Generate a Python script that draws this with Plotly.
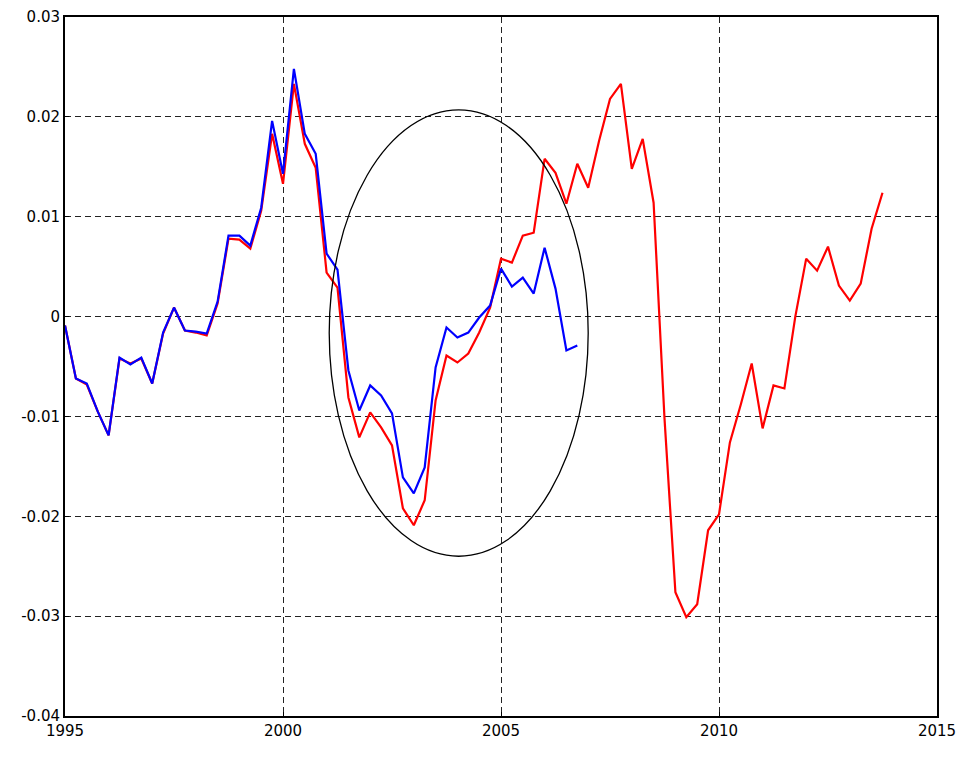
import plotly.graph_objects as go

# quarterly observations starting 1995 Q1
start_year = 1995.0
red_values = [
    -0.0009, -0.0062, -0.0068, -0.0095, -0.0119, -0.0042, -0.0047, -0.0042, -0.0067, -0.0017,
    0.0009, -0.0014, -0.0016, -0.0019, 0.0013, 0.0078, 0.0077, 0.0068, 0.0106, 0.0183,
    0.0133, 0.0233, 0.0173, 0.0149, 0.0044, 0.0029, -0.0081, -0.0121, -0.0096, -0.0111,
    -0.0129, -0.0192, -0.0209, -0.0184, -0.0084, -0.0039, -0.0046, -0.0037, -0.0016, 0.0009,
    0.0058, 0.0054, 0.0081, 0.0084, 0.0158, 0.0144, 0.0113, 0.0153, 0.0129, 0.0176,
    0.0218, 0.0233, 0.0148, 0.0178, 0.0114, -0.0102, -0.0276, -0.0301, -0.0288, -0.0214,
    -0.0198, -0.0126, -0.0088, -0.0047, -0.0112, -0.0069, -0.0072, 0.0000, 0.0058, 0.0046,
    0.0070, 0.0031, 0.0016, 0.0033, 0.0088, 0.0124,
]
blue_values = [
    -0.0009, -0.0062, -0.0067, -0.0095, -0.0119, -0.0041, -0.0048, -0.0041, -0.0067, -0.0016,
    0.0009, -0.0014, -0.0015, -0.0017, 0.0015, 0.0081, 0.0081, 0.0071, 0.0109, 0.0196,
    0.0143, 0.0248, 0.0183, 0.0163, 0.0063, 0.0047, -0.0054, -0.0094, -0.0069, -0.0079,
    -0.0097, -0.0161, -0.0177, -0.0151, -0.0051, -0.0011, -0.0021, -0.0016, -0.0001, 0.0011,
    0.0048, 0.0030, 0.0039, 0.0023, 0.0069, 0.0028, -0.0034, -0.0029,
]
red_x = [start_year + i / 4 for i in range(len(red_values))]
blue_x = [start_year + i / 4 for i in range(len(blue_values))]

x_ticks = [1995, 2000, 2005, 2010, 2015]
y_ticks = [0.03, 0.02, 0.01, 0, -0.01, -0.02, -0.03, -0.04]
y_tick_labels = ["0.03", "0.02", "0.01", "0", "-0.01", "-0.02", "-0.03", "-0.04"]

# highlighted ellipse (data coords)
ellipse_x = [2001.06, 2007.0]
ellipse_y = [-0.0240, 0.0207]

fig = go.Figure()
fig.add_trace(go.Scatter(x=red_x, y=red_values, mode="lines",
                         line=dict(color="#ff0000", width=2.2), showlegend=False))
fig.add_trace(go.Scatter(x=blue_x, y=blue_values, mode="lines",
                         line=dict(color="#0000ff", width=2.2), showlegend=False))

fig.add_shape(type="circle", xref="x", yref="y",
              x0=ellipse_x[0], x1=ellipse_x[1], y0=ellipse_y[0], y1=ellipse_y[1],
              line=dict(color="black", width=1.3))

axis_common = dict(
    showline=True, mirror=True, linecolor="black", linewidth=2,
    ticks="inside", ticklen=4, tickcolor="black",
    showgrid=True, gridcolor="#222222", gridwidth=1, griddash="6px,4px",
    zeroline=False, automargin=False,
    tickfont=dict(family="DejaVu Sans", size=15, color="black"),
)

fig.update_xaxes(range=[1995, 2015], tickvals=x_ticks, ticktext=[str(v) for v in x_ticks],
                 **axis_common)
fig.update_yaxes(range=[-0.04, 0.03], tickvals=y_ticks, ticktext=y_tick_labels,
                 **axis_common)

# page body has an 8px margin, so the figure is sized to fit the 980x778 window
fig.update_layout(
    width=972, height=770,
    margin=dict(l=57, r=43, t=9, b=62),
    plot_bgcolor="white", paper_bgcolor="white",
)

fig.write_html("out.html")
